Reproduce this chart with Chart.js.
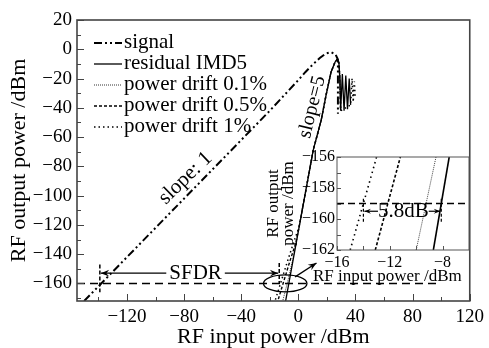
<!DOCTYPE html>
<html>
<head>
<meta charset="utf-8">
<script src="https://cdn.jsdelivr.net/npm/chart.js@4.4.1/dist/chart.umd.min.js"></script>
<style>
  html, body { margin: 0; padding: 0; background: #fff; }
  #wrap { position: relative; width: 489px; height: 348px; }
  #main { position: absolute; left: 0; top: 0; }
  #inset { position: absolute; left: 262px; top: 140px; }
</style>
</head>
<body>
<div id="wrap">
  <canvas id="main" width="489" height="348"></canvas>
  <canvas id="inset" width="220" height="150"></canvas>
</div>
<script>
const FONT = 'Liberation Serif';

// ---- main chart: ticks ----
const xTickValues = [-120, -80, -40, 0, 40, 80, 120];
const xMinorValues = [-140, -100, -60, -20, 20, 60, 100];
const yTickValues = [20, 0, -20, -40, -60, -80, -100, -120, -140, -160];
const yMinorValues = [10, -10, -30, -50, -70, -90, -110, -130, -150, -170];

// ---- main chart: series (x = input dBm, y = output dBm) ----
const signal = [[-150, -172], [-100, -122], [-50, -72], [-20, -42], [0, -21], [5, -15.5],
  [10, -10.5], [15, -6], [19, -3], [23, -2], [26, -3.5], [27.7, -7], [27.7, -44]];
const imd5Low = [[-9.2, -173.5], [0, -124.2]];
const imd5Upper = [[10.4, -68.9], [16, -48.4], [19.4, -31.3], [22.9, -15.5], [25.7, -8.7],
  [27.4, -6.7], [28.4, -9.4], [29.1, -21], [29.6, -42]];
const imd5Ring = [[30.8, -17], [32, -42], [33.2, -18], [34.4, -41], [35.6, -20], [36.6, -38]];
const drift01Low = [[-11.5, -174], [-7.8, -160], [-4, -144], [-1, -129.5], [0.1, -123.7]];
const drift05Low = [[-15, -174], [-10.7, -160], [-6, -145], [-2, -133], [0.3, -122.6]];
const drift1Low = [[-17, -174], [-12.5, -160], [-8, -146], [-3, -131], [0.5, -121.5]];
const driftRing = [[37.6, -20], [38.4, -36], [39.2, -22], [39.8, -33]];
const noiseFloor = -160;
const noiseFloorSpan = [-155, 99];

// ---- inset ----
const insetXTicks = [-16, -12, -8];
const insetXMinor = [-14, -10];
const insetYTicks = [-156, -158, -160, -162];
const insetYMinor = [-157, -159, -161];
const insetImd5 = [[-8.7, -162], [-7.5, -156]];
const insetDrift01 = [[-10, -162], [-8.5, -156]];
const insetDrift05 = [[-13.1, -162], [-11.2, -156]];
const insetDrift1 = [[-15, -162], [-13, -156]];
const insetFloor = -159;

const fmt = v => (v < 0 ? '\u2212' + Math.abs(v) : String(v));

function line(label, pts, dash, width, color) {
  return {
    label,
    data: pts.map(p => ({ x: p[0], y: p[1] })),
    showLine: true,
    pointRadius: 0,
    borderColor: color || '#000',
    borderWidth: width,
    borderDash: dash,
    fill: false,
    tension: 0
  };
}

function text(ctx, str, x, y, size, angle, align) {
  ctx.save();
  ctx.translate(x, y);
  ctx.rotate((angle || 0) * Math.PI / 180);
  ctx.font = size + 'px "' + FONT + '"';
  ctx.fillStyle = '#000';
  ctx.textAlign = align || 'center';
  ctx.textBaseline = 'middle';
  ctx.fillText(str, 0, 0);
  ctx.restore();
}

function arrow(ctx, x1, y1, x2, y2, head) {
  ctx.beginPath();
  ctx.moveTo(x1, y1);
  ctx.lineTo(x2, y2);
  ctx.stroke();
  const a = Math.atan2(y2 - y1, x2 - x1);
  ctx.beginPath();
  ctx.moveTo(x2, y2);
  ctx.lineTo(x2 - head * Math.cos(a - 0.38), y2 - head * Math.sin(a - 0.38));
  ctx.lineTo(x2 - head * 0.6 * Math.cos(a), y2 - head * 0.6 * Math.sin(a));
  ctx.lineTo(x2 - head * Math.cos(a + 0.38), y2 - head * Math.sin(a + 0.38));
  ctx.closePath();
  ctx.fill();
}

// white plot background + frame + inward tick marks
const frameTicks = {
  id: 'frameTicks',
  beforeDatasetsDraw(chart) {
    const { ctx, chartArea: a } = chart;
    ctx.save();
    ctx.fillStyle = '#fff';
    ctx.fillRect(a.left, a.top, a.right - a.left, a.bottom - a.top);
    ctx.restore();
  },
  afterDraw(chart, args, o) {
    const { ctx, chartArea: a, scales: { x, y } } = chart;
    ctx.save();
    ctx.strokeStyle = o.color;
    ctx.lineWidth = 1;
    ctx.beginPath();
    const tx = (vals, len) => vals.forEach(v => {
      const px = Math.round(x.getPixelForValue(v)) + 0.5;
      ctx.moveTo(px, a.bottom); ctx.lineTo(px, a.bottom - len);
    });
    const ty = (vals, len) => vals.forEach(v => {
      const py = Math.round(y.getPixelForValue(v)) + 0.5;
      ctx.moveTo(a.left, py); ctx.lineTo(a.left + len, py);
    });
    tx(o.xMajor, o.major); tx(o.xMinor, o.minor);
    ty(o.yMajor, o.major); ty(o.yMinor, o.minor);
    ctx.stroke();
    ctx.lineWidth = o.frame;
    ctx.strokeRect(a.left, a.top, a.right - a.left, a.bottom - a.top);
    ctx.restore();
  }
};

// annotations + legend on the main chart
const mainNotes = {
  id: 'mainNotes',
  afterDraw(chart) {
    const { ctx, chartArea: a, scales: { x, y } } = chart;
    const X = v => x.getPixelForValue(v), Y = v => y.getPixelForValue(v);
    ctx.save();
    ctx.strokeStyle = '#000';
    ctx.fillStyle = '#000';

    text(ctx, 'slope: 1', X(-79), Y(-88), 21, -44);
    text(ctx, 'slope=5', X(9.7), Y(-39.5), 20, -76);

    // SFDR
    ctx.font = '21px "' + FONT + '"';
    const tw = ctx.measureText('SFDR').width;
    const cx = X(-72), cy = Y(-153);
    text(ctx, 'SFDR', cx, cy, 21);
    ctx.lineWidth = 1.3;
    arrow(ctx, cx - tw / 2 - 3, cy, X(-139) + 1, cy, 9);
    arrow(ctx, cx + tw / 2 + 3, cy, X(-13.4) - 1, cy, 9);
    ctx.setLineDash([4, 2]);
    ctx.lineWidth = 1.5;
    ctx.beginPath();
    ctx.moveTo(X(-139), Y(-147)); ctx.lineTo(X(-139), Y(-166));
    ctx.moveTo(X(-13.4), Y(-146)); ctx.lineTo(X(-13.4), Y(-160));
    ctx.stroke();
    ctx.setLineDash([]);

    // ellipse around the crossing + pointer to the inset
    ctx.lineWidth = 1.3;
    ctx.beginPath();
    ctx.ellipse(X(-9.2), Y(-160), X(6) - X(-9.2), Y(-165.8) - Y(-160), 0, 0, Math.PI * 2);
    ctx.stroke();
    arrow(ctx, X(-2.3), Y(-155.5), X(12.7), Y(-146), 9);

    // legend
    const items = chart.data.datasets.slice(0, 5);
    items.forEach((d, i) => {
      const ly = a.top + 22 + i * 21;
      ctx.save();
      ctx.strokeStyle = d.borderColor;
      ctx.lineWidth = d.borderWidth;
      ctx.setLineDash(d.borderDash || []);
      ctx.beginPath();
      ctx.moveTo(94, ly + 1); ctx.lineTo(122, ly + 1);
      ctx.stroke();
      ctx.restore();
      text(ctx, d.label, 124, ly, 21, 0, 'left');
    });
    ctx.restore();
  }
};

const imd5 = imd5Low.concat(imd5Upper, imd5Ring);

new Chart(document.getElementById('main'), {
  type: 'scatter',
  data: {
    datasets: [
      line('signal', signal, [8, 3, 2, 3, 2, 3], 2),
      line('residual IMD5', imd5, [], 1.3),
      line('power drift 0.1%', drift01Low.concat(imd5Upper), [1, 1], 1, '#333'),
      line('power drift 0.5%', drift05Low.concat(imd5Upper), [3, 2], 1.4),
      line('power drift 1%', drift1Low.concat(imd5Upper, imd5Ring.slice(-1), driftRing), [1.5, 3], 1.5),
      line('floor', [[noiseFloorSpan[0], noiseFloor], [noiseFloorSpan[1], noiseFloor]], [8, 5], 1.5)
    ]
  },
  options: {
    responsive: false,
    animation: false,
    layout: { padding: { top: 20, right: 16, left: 0, bottom: 0 } },
    plugins: {
      legend: { display: false },
      tooltip: { enabled: false },
      frameTicks: { xMajor: xTickValues, xMinor: xMinorValues, yMajor: yTickValues, yMinor: yMinorValues,
        major: 7, minor: 4, color: '#444', frame: 1.6 }
    },
    scales: {
      x: {
        type: 'linear', min: -155, max: 120,
        afterBuildTicks: s => { s.ticks = xTickValues.map(v => ({ value: v })); },
        afterFit: s => { s.height = 47; },
        grid: { display: false, drawTicks: false },
        border: { display: false },
        ticks: { padding: 5, color: '#000', maxRotation: 0, font: { family: FONT, size: 19 }, callback: fmt },
        title: { display: true, text: 'RF input power /dBm', color: '#000',
          font: { family: FONT, size: 22, lineHeight: 1 }, padding: { top: 0, bottom: 0 } }
      },
      y: {
        type: 'linear', min: -172, max: 20,
        afterBuildTicks: s => { s.ticks = yTickValues.map(v => ({ value: v })); },
        afterFit: s => { s.width = 77; },
        grid: { display: false, drawTicks: false },
        border: { display: false },
        ticks: { padding: 5, color: '#000', font: { family: FONT, size: 19 }, callback: fmt },
        title: { display: true, text: 'RF output power /dBm', color: '#000',
          font: { family: FONT, size: 22, lineHeight: 1 }, padding: { top: 8, bottom: 0 } }
      }
    }
  },
  plugins: [frameTicks, mainNotes]
});

// inset annotations
const insetNotes = {
  id: 'insetNotes',
  afterDraw(chart) {
    const { ctx, chartArea: a, scales: { x, y } } = chart;
    const X = v => x.getPixelForValue(v), Y = v => y.getPixelForValue(v);
    ctx.save();
    ctx.strokeStyle = '#000';
    ctx.fillStyle = '#000';
    ctx.lineWidth = 1.2;
    ctx.setLineDash([3, 2]);
    ctx.beginPath();
    ctx.moveTo(X(-14), Y(-158.7)); ctx.lineTo(X(-14), Y(-160.2));
    ctx.moveTo(X(-8.1), Y(-158.7)); ctx.lineTo(X(-8.1), Y(-160.2));
    ctx.stroke();
    ctx.setLineDash([]);
    ctx.font = '21px "' + FONT + '"';
    const cx = (X(-14) + X(-8.1)) / 2 + 1, cy = Y(-159.5);
    const tw = ctx.measureText('5.8dB').width;
    arrow(ctx, cx - tw / 2, cy, X(-14) + 1, cy, 7);
    arrow(ctx, cx + tw / 2, cy, X(-8.1) - 1, cy, 7);
    text(ctx, '5.8dB', cx, cy, 21);
    text(ctx, 'RF input power /dBm', a.left - 24, 137, 17, 0, 'left');
    ctx.restore();
  }
};

new Chart(document.getElementById('inset'), {
  type: 'scatter',
  data: {
    datasets: [
      line('residual IMD5', insetImd5, [], 1.6),
      line('power drift 0.1%', insetDrift01, [1, 1], 1, '#444'),
      line('power drift 0.5%', insetDrift05, [3, 2], 1.6),
      line('power drift 1%', insetDrift1, [1.5, 3.5], 1.6),
      line('floor', [[-16, insetFloor], [-6, insetFloor]], [7, 4], 1.5)
    ]
  },
  options: {
    responsive: false,
    animation: false,
    layout: { padding: { top: 17, right: 13, left: 0, bottom: 0 } },
    plugins: {
      legend: { display: false },
      tooltip: { enabled: false },
      frameTicks: { xMajor: insetXTicks, xMinor: insetXMinor, yMajor: insetYTicks, yMinor: insetYMinor,
        major: 4, minor: 4, color: '#555', frame: 1 }
    },
    scales: {
      x: {
        type: 'linear', min: -16, max: -6,
        afterBuildTicks: s => { s.ticks = insetXTicks.map(v => ({ value: v })); },
        afterFit: s => { s.height = 40; },
        grid: { display: false, drawTicks: false },
        border: { display: false },
        ticks: { padding: 3, color: '#000', maxRotation: 0, font: { family: FONT, size: 16 }, callback: fmt }
      },
      y: {
        type: 'linear', min: -162, max: -156,
        afterBuildTicks: s => { s.ticks = insetYTicks.map(v => ({ value: v })); },
        afterFit: s => { s.width = 75; },
        grid: { display: false, drawTicks: false },
        border: { display: false },
        ticks: { padding: 2, color: '#000', font: { family: FONT, size: 16 }, callback: fmt },
        title: { display: true, text: ['RF output', 'power /dBm'], color: '#000',
          font: { family: FONT, size: 17, lineHeight: 0.9 }, padding: { top: 4, bottom: 0 } }
      }
    }
  },
  plugins: [frameTicks, insetNotes]
});
</script>
</body>
</html>
